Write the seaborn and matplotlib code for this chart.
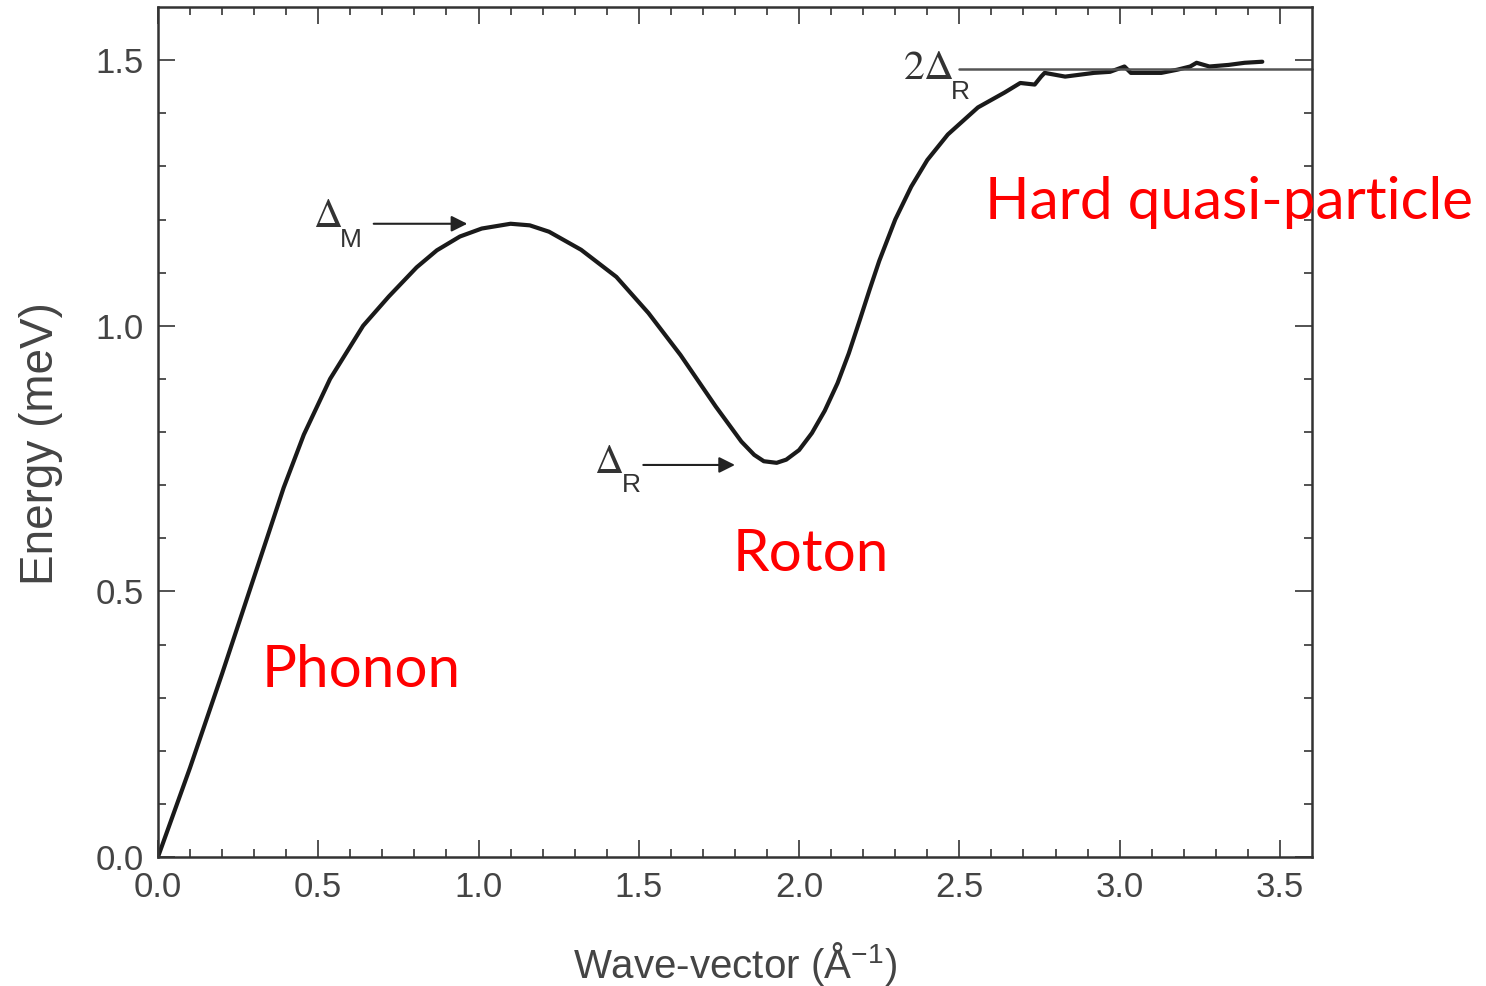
import matplotlib
matplotlib.use("Agg")
import matplotlib.pyplot as plt
import seaborn as sns
import pandas as pd

# ---- data ----
wave_vector = [0, 0.10, 0.20, 0.285, 0.34, 0.392, 0.455, 0.537, 0.64, 0.72,
               0.807, 0.87, 0.942, 1.01, 1.10, 1.16, 1.22, 1.32, 1.43, 1.53, 1.63,
               1.74, 1.82, 1.86, 1.89, 1.93, 1.96, 2.00, 2.04, 2.08, 2.12, 2.155,
               2.19, 2.22, 2.25, 2.30, 2.35, 2.40, 2.464, 2.558, 2.641, 2.69, 2.735,
               2.755, 2.766, 2.83, 2.92, 2.97, 3.015, 3.035, 3.13, 3.18, 3.22, 3.24,
               3.28, 3.34, 3.39, 3.445]
energy = [0, 0.168, 0.345, 0.50, 0.60, 0.695, 0.795, 0.90, 1.00, 1.055,
          1.11, 1.142, 1.168, 1.183, 1.192, 1.189, 1.177, 1.143, 1.092, 1.024, 0.945,
          0.848, 0.782, 0.757, 0.745, 0.742, 0.748, 0.766, 0.798, 0.84, 0.892, 0.948,
          1.012, 1.068, 1.122, 1.20, 1.262, 1.312, 1.36, 1.411, 1.439, 1.457, 1.454,
          1.469, 1.476, 1.469, 1.476, 1.478, 1.488, 1.476, 1.476, 1.482, 1.488, 1.495,
          1.488, 1.491, 1.495, 1.497]
two_delta_r = 1.484
x_ticks = [0.0, 0.5, 1.0, 1.5, 2.0, 2.5, 3.0, 3.5]
y_ticks = [0.0, 0.5, 1.0, 1.5]
regions = ["Phonon", "Roton", "Hard quasi-particle"]

df = pd.DataFrame({"k": wave_vector, "E": energy})

sns.set_theme(style="ticks")
plt.rcParams["font.family"] = ["Liberation Sans", "DejaVu Sans"]
plt.rcParams["mathtext.fontset"] = "custom"
plt.rcParams["mathtext.rm"] = "STIXGeneral"
plt.rcParams["mathtext.it"] = "STIXGeneral:italic"
plt.rcParams["mathtext.sf"] = "Liberation Sans"

fig = plt.figure(figsize=(14.86, 9.86), dpi=100)
ax = fig.add_axes([0.1063, 0.1308, 0.7766, 0.8621])

sns.lineplot(data=df, x="k", y="E", ax=ax, color="#1a1a1a", lw=3.0, sort=False)

ax.set_xlim(0, 3.6)
ax.set_ylim(0, 1.6)
ax.set_xticks(x_ticks)
ax.set_yticks(y_ticks)
ax.set_xticks([i / 10 for i in range(0, 36)], minor=True)
ax.set_yticks([i / 10 for i in range(0, 16)], minor=True)
ax.set_xticklabels([f"{v:.1f}" for v in x_ticks])
ax.set_yticklabels([f"{v:.1f}" for v in y_ticks])

ax.tick_params(which="both", direction="in", top=True, right=True,
               colors="#444444", labelsize=25, width=1.3)
ax.tick_params(which="major", length=12, pad=10)
ax.tick_params(which="minor", length=6)
for s in ax.spines.values():
    s.set_linewidth(1.8)
    s.set_color("#333333")
    s.set_visible(True)

ax.set_xlabel(r"Wave-vector (Å$^{\mathsf{-1}}$)", fontsize=29, color="#444444", labelpad=26)
ax.set_ylabel("Energy (meV)", fontsize=33, color="#444444")
ax.yaxis.label.set_va("center")
ax.yaxis.set_label_coords(-0.101, 0.487)

lab_col = "#333333"
# 2 Delta_R line and label
ax.plot([2.50, 3.6], [two_delta_r, two_delta_r], color="#555555", lw=1.8, clip_on=False)
ax.text(2.324, 1.465, r"$2\Delta$", fontsize=30, color=lab_col, ha="left", va="baseline")
ax.text(2.472, 1.427, "R", fontsize=19, color=lab_col, ha="left", va="baseline")

# Delta_M annotation
ax.text(0.483, 1.185, r"$\Delta$", fontsize=29, color=lab_col, ha="left", va="baseline")
ax.text(0.568, 1.149, "M", fontsize=19, color=lab_col, ha="left", va="baseline")
ax.annotate("", xy=(0.965, 1.192), xytext=(0.673, 1.192),
            arrowprops=dict(arrowstyle="-|>", mutation_scale=24, lw=1.5,
                            color="#222222", shrinkA=0, shrinkB=0))
# Delta_R annotation
ax.text(1.361, 0.723, r"$\Delta$", fontsize=29, color=lab_col, ha="left", va="baseline")
ax.text(1.446, 0.687, "R", fontsize=19, color=lab_col, ha="left", va="baseline")
ax.annotate("", xy=(1.80, 0.738), xytext=(1.514, 0.738),
            arrowprops=dict(arrowstyle="-|>", mutation_scale=24, lw=1.5,
                            color="#222222", shrinkA=0, shrinkB=0))

# red region labels
red_font = ["Lato", "DejaVu Sans"]
ax.text(0.324, 0.320, regions[0], color="#ff0000", fontsize=42, family=red_font,
        ha="left", va="baseline", clip_on=False)
ax.text(1.794, 0.539, regions[1], color="#ff0000", fontsize=42, family=red_font,
        ha="left", va="baseline", clip_on=False)
ax.text(2.579, 1.2015, regions[2], color="#ff0000", fontsize=42, family=red_font,
        ha="left", va="baseline", clip_on=False)

fig.savefig("out.png", dpi=100, facecolor="white")
